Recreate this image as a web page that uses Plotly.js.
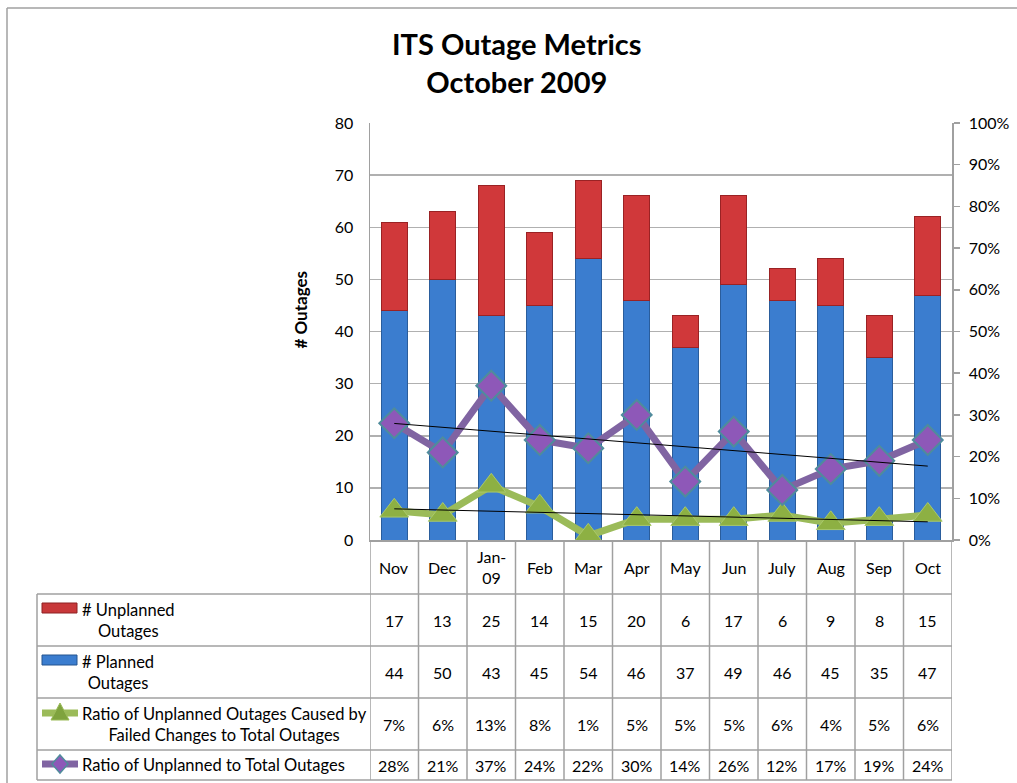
<!DOCTYPE html>
<html>
<head>
<meta charset="utf-8">
<script src="https://cdn.plot.ly/plotly-3.0.1.min.js"></script>
<style>
html,body{margin:0;padding:0;background:#fff;}
#chart{width:1017px;height:783px;}
</style>
</head>
<body>
<div id="chart"></div>
<script>
// ---- data ----
var months = ['Nov','Dec','Jan-09','Feb','Mar','Apr','May','Jun','July','Aug','Sep','Oct'];
var monthLabels = ['Nov','Dec','Jan-<br>09','Feb','Mar','Apr','May','Jun','July','Aug','Sep','Oct'];
var unplanned = [17,13,25,14,15,20,6,17,6,9,8,15];
var planned = [44,50,43,45,54,46,37,49,46,45,35,47];
var failedRatioPct = [7,6,13,8,1,5,5,5,6,4,5,6];
var unplannedRatioPct = [28,21,37,24,22,30,14,26,12,17,19,24];
var rowLabels = ['# Unplanned<br>Outages','# Planned<br>Outages',
  'Ratio of Unplanned Outages Caused by<br>Failed Changes to Total Outages',
  'Ratio of Unplanned to Total Outages'];

// ---- helpers ----
var L = 370, R = 952, T = 123, B = 540, W = 1017, H = 783;
var PW = R - L, PH = B - T;
function px(x){ return (x - L) / PW; }
function py(y){ return (B - y) / PH; }
function frac(a){ return a.map(function(v){ return v/100; }); }
function trend(vals){
  var n = vals.length, sx=0, sy=0, sxy=0, sxx=0;
  for (var i=0;i<n;i++){ sx+=i; sy+=vals[i]; sxy+=i*vals[i]; sxx+=i*i; }
  var m = (n*sxy - sx*sy)/(n*sxx - sx*sx);
  var b = (sy - m*sx)/n;
  return [b/100, (b + m*(n-1))/100];
}

var font = 'Lato, "Open Sans", sans-serif';
var grey = '#a0a0a0';

var traces = [
  {type:'bar', x:months, y:planned, name:'# Planned Outages',
   marker:{color:'#3b7dcf', line:{color:'#2a5d9c', width:1}}},
  {type:'bar', x:months, y:unplanned, name:'# Unplanned Outages',
   marker:{color:'#d0383a', line:{color:'#9a2224', width:1}}},
  {type:'scatter', mode:'lines+markers', x:months, y:frac(failedRatioPct), yaxis:'y2',
   name:'Failed ratio', line:{color:'#9bbb59', width:7},
   marker:{symbol:'triangle-up', size:25, color:'#8db043', line:{color:'#a9c96b', width:1}}},
  {type:'scatter', mode:'lines+markers', x:months, y:frac(unplannedRatioPct), yaxis:'y2',
   name:'Unplanned ratio', line:{color:'#8064a2', width:7},
   marker:{symbol:'diamond', size:23, color:'#8e58b8', line:{color:'#4f8c9c', width:2}}},
  {type:'scatter', mode:'lines', x:[months[0], months[months.length-1]], y:trend(failedRatioPct), yaxis:'y2',
   line:{color:'#000', width:1}, hoverinfo:'skip'},
  {type:'scatter', mode:'lines', x:[months[0], months[months.length-1]], y:trend(unplannedRatioPct), yaxis:'y2',
   line:{color:'#000', width:1}, hoverinfo:'skip'}
];

// ---- table geometry ----
var rowY = [540, 594, 646, 698, 750, 780];
var shapes = [];
var annotations = [];

// outer chart border (left + top)
shapes.push({type:'line', xref:'paper', yref:'paper', x0:px(7), x1:px(1030), y0:py(8), y1:py(8), line:{color:grey, width:1.5}});
shapes.push({type:'line', xref:'paper', yref:'paper', x0:px(7), x1:px(7), y0:py(8), y1:py(800), line:{color:grey, width:1.5}});

// horizontal table lines
for (var r=1; r<rowY.length; r++){
  shapes.push({type:'line', xref:'paper', yref:'paper', x0:px(37), x1:px(R), y0:py(rowY[r]), y1:py(rowY[r]), line:{color:grey, width:1.5}});
}
// left border of label column
shapes.push({type:'line', xref:'paper', yref:'paper', x0:px(37), x1:px(37), y0:py(594), y1:py(780), line:{color:grey, width:1.5}});
// vertical column lines
for (var c=0; c<=months.length; c++){
  shapes.push({type:'line', xref:'x', yref:'paper', x0:c-0.5, x1:c-0.5, y0:0, y1:py(780), line:{color:grey, width:1.5}});
}

// header labels and values
var rowVals = [unplanned, planned,
  failedRatioPct.map(function(v){return v+'%';}),
  unplannedRatioPct.map(function(v){return v+'%';})];
var rowMid = [620, 672, 724, 765];
for (var i=0;i<months.length;i++){
  annotations.push({xref:'x', yref:'paper', x:months[i], y:py(567), text:monthLabels[i], showarrow:false,
    font:{family:font, size:16, color:'#000'}, yanchor:'middle'});
  for (var k=0;k<4;k++){
    annotations.push({xref:'x', yref:'paper', x:months[i], y:py(rowMid[k]), text:String(rowVals[k][i]), showarrow:false,
      font:{family:font, size:16, color:'#000'}, yanchor:'middle'});
  }
}
// row labels
var labelMid = [620, 672, 724, 765];
for (var k=0;k<4;k++){
  annotations.push({xref:'paper', yref:'paper', x:px(80), y:py(labelMid[k]), xanchor:'left', yanchor:'middle', align:'center',
    text:rowLabels[k], showarrow:false, font:{family:font, size:16.5, color:'#000'}});
}
// legend icons
shapes.push({type:'rect', xref:'paper', yref:'paper', x0:px(42), x1:px(77), y0:py(603), y1:py(613),
  fillcolor:'#c8383a', line:{color:'#8e2022', width:1}});
shapes.push({type:'rect', xref:'paper', yref:'paper', x0:px(42), x1:px(77), y0:py(655), y1:py(665),
  fillcolor:'#3b7dcf', line:{color:'#24548f', width:1}});
shapes.push({type:'line', xref:'paper', yref:'paper', x0:px(42), x1:px(78), y0:py(713), y1:py(713), line:{color:'#9bbb59', width:7}});
shapes.push({type:'path', xref:'paper', yref:'paper',
  path:'M '+px(51)+' '+py(720)+' L '+px(60)+' '+py(703)+' L '+px(69)+' '+py(720)+' Z',
  fillcolor:'#7fa33e', line:{color:'#9bbb59', width:1}});
shapes.push({type:'line', xref:'paper', yref:'paper', x0:px(42), x1:px(78), y0:py(764), y1:py(764), line:{color:'#8064a2', width:7}});
shapes.push({type:'path', xref:'paper', yref:'paper',
  path:'M '+px(60)+' '+py(755)+' L '+px(68)+' '+py(764)+' L '+px(60)+' '+py(773)+' L '+px(52)+' '+py(764)+' Z',
  fillcolor:'#8e58b8', line:{color:'#4f8c9c', width:1.5}});

// y axis title
annotations.push({xref:'paper', yref:'paper', x:px(287), y:py(310), text:'<b># Outages</b>', textangle:-90,
  showarrow:false, font:{family:font, size:17, color:'#000'}});

// chart title
annotations.push({xref:'paper', yref:'paper', x:px(517), y:py(62), text:'<b>ITS Outage Metrics<br>October 2009</b>',
  showarrow:false, xanchor:'center', yanchor:'middle', align:'center',
  font:{family:font, size:29, color:'#000'}});

var layout = {
  width:W, height:H,
  margin:{l:L, r:W-R, t:T, b:H-B, pad:0},
  paper_bgcolor:'#fff', plot_bgcolor:'#fff',
  showlegend:false,
  barmode:'stack', bargap:0.46,
  xaxis:{type:'category', range:[-0.5, months.length-0.5], showticklabels:false, ticks:'',
    showgrid:false, showline:true, linecolor:grey, linewidth:1.5, zeroline:false, fixedrange:true},
  yaxis:{range:[0,80], dtick:10, showgrid:true, gridcolor:'#b0b0b0', gridwidth:1.5,
    showline:true, linecolor:grey, linewidth:1.5, zeroline:false, ticks:'',
    tickfont:{family:font, size:16, color:'#000'}, ticklabelstandoff:12},
  yaxis2:{range:[0,1], dtick:0.1, tickformat:'.0%', overlaying:'y', side:'right',
    showgrid:false, zeroline:false, showline:true, linecolor:grey, linewidth:1.5,
    ticks:'outside', ticklen:6, tickcolor:grey, tickwidth:1.5,
    tickfont:{family:font, size:16, color:'#000'}, ticklabelstandoff:6},
  shapes:shapes,
  annotations:annotations
};

Plotly.newPlot('chart', traces, layout, {displayModeBar:false, staticPlot:true});
</script>
</body>
</html>
